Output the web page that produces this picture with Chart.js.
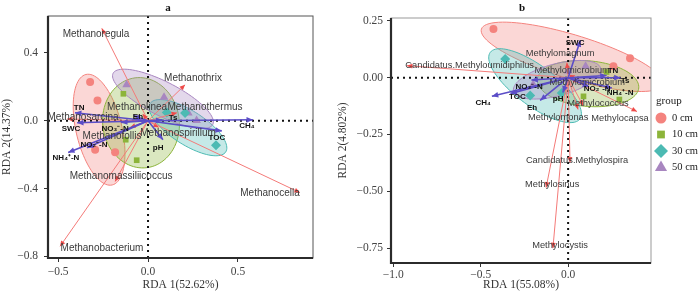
<!DOCTYPE html>
<html>
<head>
<meta charset="utf-8">
<script src="https://cdn.jsdelivr.net/npm/chart.js@4.4.0/dist/chart.umd.min.js"></script>
<style>
  body { margin: 0; background: #fff; width: 700px; height: 293px; position: relative; overflow: hidden; }
  canvas { position: absolute; top: 0; }
  #chartA { left: 0; }
  #chartB { left: 336px; }
</style>
</head>
<body>
<canvas id="chartA" width="336" height="293"></canvas>
<canvas id="chartB" width="364" height="293"></canvas>
<script>
// groups (soil depth)
const groups = ['0 cm', '10 cm', '30 cm', '50 cm'];
const groupColors = ['#F4837E', '#8CB43A', '#4CBAB3', '#A886C0'];
const groupShapes = ['circle', 'rect', 'rectRot', 'triangle'];

// panel a: sample scores per group [x, y]
const aSamples0 = [[-0.322, 0.228], [-0.281, 0.119], [-0.294, -0.171], [-0.183, -0.186]];
const aSamples10 = [[-0.137, 0.159], [-0.124, -0.112], [-0.063, -0.233]];
const aSamples30 = [[0.104, 0.049], [0.206, 0.045], [0.378, -0.145]];
const aSamples50 = [[-0.119, 0.212], [0.089, 0.139], [0.224, 0.045], [0.27, 0.002]];
// confidence ellipses: centre x, y, semi-axis u (x, y), semi-axis v (x, y)
const aEllipses = [
  [-0.272, -0.053, 0.073, -0.326, 0.124, 0.031],
  [-0.039, -0.012, 0.033, -0.265, 0.211, 0.029],
  [0.222, -0.041, 0.21, -0.143, -0.051, -0.084],
  [0.083, 0.129, 0.277, -0.151, -0.043, -0.089]
];
// panel a: genera (red arrows)
const aSpecies = ['Methanoregula', 'Methanothrix', 'Methanothermus', 'Methanolinea', 'Methanosarcina',
  'Methanofollis', 'Methanospirillum', 'Methanomassiliicoccus', 'Methanocella', 'Methanobacterium'];
const aSpeciesX = [-0.257, 0.206, 0.161, -0.03, -0.45, -0.1, 0.06, -0.183, 0.844, -0.489];
const aSpeciesY = [0.545, 0.212, 0.047, 0.04, 0.01, -0.04, -0.04, -0.359, -0.424, -0.741];
const aSpeciesLabelX = [-0.289, 0.25, 0.317, -0.061, -0.361, -0.2, 0.167, -0.15, 0.678, -0.256];
const aSpeciesLabelY = [0.512, 0.253, 0.082, 0.082, 0.018, -0.094, -0.071, -0.329, -0.429, -0.753];
// panel a: environmental factors (blue arrows)
const aEnv = ['CH₄', 'TN', 'SWC', 'NO₃⁻-N', 'NO₂⁻-N', 'NH₄⁺-N', 'pH', 'TOC', 'Ts', 'Eh'];
const aEnvX = [0.583, -0.406, -0.394, -0.15, -0.339, -0.444, 0.083, 0.41, 0.08, -0.08];
const aEnvY = [0.006, 0.047, -0.012, -0.01, -0.159, -0.188, -0.112, -0.06, 0.005, 0.03];
const aEnvLabelX = [0.55, -0.383, -0.428, -0.183, -0.3, -0.456, 0.056, 0.383, 0.139, -0.056];
const aEnvLabelY = [-0.029, 0.076, -0.047, -0.047, -0.141, -0.218, -0.159, -0.1, 0.018, 0.024];
const aXTicks = [-0.5, 0, 0.5];
const aYTicks = [-0.8, -0.4, 0, 0.4];

// panel b: sample scores per group
const bSamples0 = [[-0.427, 0.215], [0.354, 0.086], [0.259, 0.05]];
const bSamples10 = [[0.088, -0.082], [0.293, -0.096], [0.22, 0.025]];
const bSamples30 = [[-0.36, 0.082], [-0.217, -0.078], [-0.036, -0.067]];
const bSamples50 = [[-0.2, -0.03], [0.0, 0.03], [0.1, 0.05]];
const bEllipses = [
  [0.023, 0.092, 0.519, -0.122, -0.037, -0.092],
  [0.114, -0.026, 0.29, -0.019, -0.011, -0.1],
  [-0.189, -0.035, 0.256, -0.147, -0.069, -0.07],
  [-0.063, -0.009, 0.249, 0.051, 0.024, -0.068]
];
const bSpecies = ['Candidatus.Methyloumidiphilus', 'Methylomagnum', 'Methylomicrobium', 'Methylomicrobium',
  'Methylococcus', 'Methylomonas', 'Methylocapsa', 'Candidatus.Methylospira', 'Methylosinus', 'Methylocystis'];
const bSpeciesX = [-0.922, -0.007, 0.04, 0.06, 0.086, 0.057, 0.394, 0.011, -0.126, -0.087];
const bSpeciesY = [0.053, 0.067, 0.01, -0.02, -0.123, -0.14, -0.149, -0.374, -0.484, -0.751];
const bSpeciesLabelX = [-0.563, -0.046, 0.023, 0.109, 0.171, -0.057, 0.297, 0.051, -0.091, -0.046];
const bSpeciesLabelY = [0.053, 0.105, 0.031, -0.022, -0.114, -0.175, -0.18, -0.364, -0.469, -0.737];
const bEnv = ['SWC', 'TN', 'Ts', 'NH₄⁺-N', 'NO₂⁻-N', 'NO₃⁻-N', 'CH₄', 'TOC', 'Eh', 'pH'];
const bEnvX = [0.07, 0.22, 0.30, 0.25, 0.12, -0.21, -0.436, -0.33, -0.16, -0.03];
const bEnvY = [0.165, 0.01, 0.0, -0.045, -0.04, -0.01, -0.082, -0.07, -0.10, -0.065];
const bEnvLabelX = [0.04, 0.257, 0.326, 0.297, 0.166, -0.223, -0.486, -0.29, -0.206, -0.057];
const bEnvLabelY = [0.154, 0.031, -0.013, -0.066, -0.048, -0.039, -0.11, -0.083, -0.132, -0.092];
const bXTicks = [-1, -0.5, 0];
const bYTicks = [-0.75, -0.5, -0.25, 0, 0.25];

const serif = 'Liberation Serif';
const sans = 'Liberation Sans';

function fmt(v, d) {
  return (v < 0 ? '−' : '') + Math.abs(v).toFixed(d);
}

function withAlpha(hex, a) {
  const n = parseInt(hex.slice(1), 16);
  return `rgba(${n >> 16}, ${(n >> 8) & 255}, ${n & 255}, ${a})`;
}

function drawArrow(ctx, x0, y0, x1, y1, color, headColor, lw, len) {
  const ang = Math.atan2(y1 - y0, x1 - x0);
  ctx.strokeStyle = color;
  ctx.lineWidth = lw;
  ctx.beginPath();
  ctx.moveTo(x0, y0);
  ctx.lineTo(x1, y1);
  ctx.stroke();
  ctx.fillStyle = headColor;
  ctx.beginPath();
  ctx.moveTo(x1, y1);
  ctx.lineTo(x1 - len * Math.cos(ang - 0.42), y1 - len * Math.sin(ang - 0.42));
  ctx.lineTo(x1 - len * Math.cos(ang + 0.42), y1 - len * Math.sin(ang + 0.42));
  ctx.closePath();
  ctx.fill();
}

// draws ellipses, zero lines, arrows, labels, frame, panel letter and legend
function rdaPlugin(cfg) {
  return {
    id: 'rda',
    beforeDatasetsDraw(chart) {
      const { ctx, chartArea: a, scales: { x, y } } = chart;
      ctx.save();
      ctx.beginPath();
      ctx.rect(a.left, a.top, a.right - a.left, a.bottom - a.top);
      ctx.clip();
      cfg.ellipses.forEach((e, i) => {
        ctx.beginPath();
        for (let k = 0; k <= 90; k++) {
          const t = k / 90 * Math.PI * 2;
          const px = x.getPixelForValue(e[0] + e[2] * Math.cos(t) + e[4] * Math.sin(t));
          const py = y.getPixelForValue(e[1] + e[3] * Math.cos(t) + e[5] * Math.sin(t));
          if (k === 0) ctx.moveTo(px, py); else ctx.lineTo(px, py);
        }
        ctx.closePath();
        ctx.fillStyle = withAlpha(groupColors[i], 0.32);
        ctx.fill();
        ctx.strokeStyle = groupColors[i];
        ctx.lineWidth = 1;
        ctx.stroke();
      });
      // dotted zero lines
      ctx.strokeStyle = '#111';
      ctx.lineWidth = 2;
      ctx.setLineDash([2, 4]);
      const x0 = x.getPixelForValue(0), y0 = y.getPixelForValue(0);
      ctx.beginPath();
      ctx.moveTo(x0, a.top); ctx.lineTo(x0, a.bottom);
      ctx.moveTo(a.left, y0); ctx.lineTo(a.right, y0);
      ctx.stroke();
      ctx.restore();
    },
    afterDatasetsDraw(chart) {
      const { ctx, chartArea: a, scales: { x, y } } = chart;
      const ox = x.getPixelForValue(0), oy = y.getPixelForValue(0);
      ctx.save();
      ctx.beginPath();
      ctx.rect(a.left, a.top, a.right - a.left, a.bottom - a.top);
      ctx.clip();
      cfg.speciesX.forEach((v, i) => {
        drawArrow(ctx, ox, oy, x.getPixelForValue(v), y.getPixelForValue(cfg.speciesY[i]),
          '#F47A78', '#EE4B49', 1, 6);
      });
      cfg.envX.forEach((v, i) => {
        drawArrow(ctx, ox, oy, x.getPixelForValue(v), y.getPixelForValue(cfg.envY[i]),
          '#5B4DC7', '#5B4DC7', 1.6, 7);
      });
      ctx.textAlign = 'center';
      ctx.textBaseline = 'middle';
      ctx.fillStyle = '#3a3a3a';
      ctx.font = `${cfg.labelSize}px ${sans}`;
      cfg.species.forEach((s, i) => {
        ctx.fillText(s, x.getPixelForValue(cfg.speciesLabelX[i]), y.getPixelForValue(cfg.speciesLabelY[i]));
      });
      ctx.fillStyle = '#111';
      ctx.font = `bold 8px ${sans}`;
      cfg.env.forEach((s, i) => {
        ctx.fillText(s, x.getPixelForValue(cfg.envLabelX[i]), y.getPixelForValue(cfg.envLabelY[i]));
      });
      ctx.restore();
    },
    afterDraw(chart) {
      const { ctx, chartArea: a } = chart;
      ctx.save();
      ctx.strokeStyle = cfg.frameColor;
      ctx.lineWidth = 1;
      ctx.strokeRect(a.left, a.top, a.right - a.left, a.bottom - a.top);
      ctx.strokeStyle = '#2b2b2b';
      ctx.lineWidth = 2.2;
      ctx.beginPath();
      ctx.moveTo(a.left, a.top);
      ctx.lineTo(a.left, a.bottom);
      ctx.lineTo(a.right, a.bottom);
      ctx.stroke();
      ctx.fillStyle = '#111';
      ctx.font = `bold 11px ${serif}`;
      ctx.textAlign = 'center';
      ctx.textBaseline = 'middle';
      ctx.fillText(cfg.letter, cfg.letterX, 8);
      if (cfg.legend) {
        const lx = a.right + 5;
        ctx.textAlign = 'left';
        ctx.fillStyle = '#222';
        ctx.font = `11px ${serif}`;
        ctx.fillText('group', lx, 101);
        ctx.font = `10.5px ${serif}`;
        const sizes = [5.5, 5.5, 7, 7];
        groups.forEach((g, i) => {
          const ly = 118 + i * 16.5;
          ctx.fillStyle = groupColors[i];
          Chart.helpers.drawPoint(ctx, { pointStyle: groupShapes[i], radius: sizes[i], rotation: 0, borderWidth: 0 }, lx + 5, ly);
          ctx.fillStyle = '#222';
          ctx.fillText(g, lx + 16, ly);
        });
      }
      ctx.restore();
    }
  };
}

function sampleSets(lists) {
  const radii = [4, 4, 5, 5];
  return lists.map((pts, i) => ({
    label: groups[i],
    data: pts.map(p => ({ x: p[0], y: p[1] })),
    pointStyle: groupShapes[i],
    pointRadius: radii[i],
    backgroundColor: groupColors[i],
    borderWidth: 0
  }));
}

function scaleOpts(min, max, ticks, dec, title, fitKey, fitSize, tickPad) {
  return {
    type: 'linear',
    min: min,
    max: max,
    afterBuildTicks: s => { s.ticks = ticks.map(v => ({ value: v })); },
    afterFit: s => { s[fitKey] = fitSize; },
    grid: { drawOnChartArea: false, drawTicks: true, tickLength: 4, color: '#333' },
    border: { display: false },
    ticks: {
      callback: v => fmt(v, dec),
      font: { family: serif, size: 11.5 },
      color: '#444',
      padding: tickPad,
      maxRotation: 0,
      autoSkip: false
    },
    title: { display: true, text: title, font: { family: serif, size: 11.5 }, color: '#333', padding: { top: 0, bottom: 1 } }
  };
}

new Chart(document.getElementById('chartA'), {
  type: 'scatter',
  data: { datasets: sampleSets([aSamples0, aSamples10, aSamples30, aSamples50]) },
  options: {
    responsive: false,
    animation: false,
    layout: { padding: { top: 16, right: 23, left: 0, bottom: 0 } },
    plugins: { legend: { display: false }, tooltip: { enabled: false } },
    scales: {
      x: scaleOpts(-0.556, 0.917, aXTicks, 1, 'RDA 1(52.62%)', 'height', 35, 3),
      y: scaleOpts(-0.81, 0.618, aYTicks, 1, 'RDA 2(14.37%)', 'width', 48, 6)
    }
  },
  plugins: [rdaPlugin({
    ellipses: aEllipses,
    species: aSpecies, speciesX: aSpeciesX, speciesY: aSpeciesY,
    speciesLabelX: aSpeciesLabelX, speciesLabelY: aSpeciesLabelY,
    env: aEnv, envX: aEnvX, envY: aEnvY, envLabelX: aEnvLabelX, envLabelY: aEnvLabelY,
    frameColor: '#555', letter: 'a', letterX: 168, legend: false, labelSize: 10
  })]
});

new Chart(document.getElementById('chartB'), {
  type: 'scatter',
  data: { datasets: sampleSets([bSamples0, bSamples10, bSamples30, bSamples50]) },
  options: {
    responsive: false,
    animation: false,
    layout: { padding: { top: 18, right: 49, left: 0, bottom: 0 } },
    plugins: { legend: { display: false }, tooltip: { enabled: false } },
    scales: {
      x: scaleOpts(-1.013, 0.474, bXTicks, 1, 'RDA 1(55.08%)', 'height', 30, 1),
      y: scaleOpts(-0.816, 0.263, bYTicks, 2, 'RDA 2(4.802%)', 'width', 55, 4)
    }
  },
  plugins: [rdaPlugin({
    ellipses: bEllipses,
    species: bSpecies, speciesX: bSpeciesX, speciesY: bSpeciesY,
    speciesLabelX: bSpeciesLabelX, speciesLabelY: bSpeciesLabelY,
    env: bEnv, envX: bEnvX, envY: bEnvY, envLabelX: bEnvLabelX, envLabelY: bEnvLabelY,
    frameColor: '#999', letter: 'b', letterX: 186, legend: true, labelSize: 9.3
  })]
});
</script>
</body>
</html>
